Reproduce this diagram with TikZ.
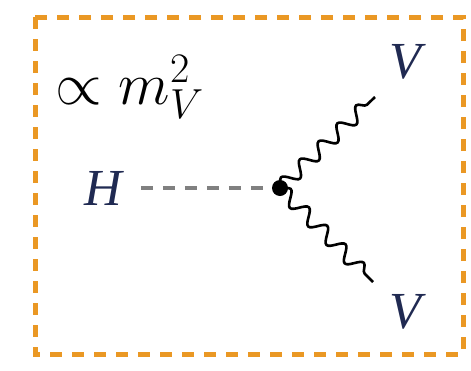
\documentclass[tikz,border=0pt]{standalone}
\usepackage{fix-cm}
\usepackage{fontspec}
\newfontfamily\timesfont{Liberation Serif}
\usetikzlibrary{decorations.pathmorphing}
\definecolor{boxorange}{RGB}{234,152,36}
\definecolor{labelblue}{RGB}{32,42,82}
\begin{document}
\begin{tikzpicture}[x=0.5pt, y=-0.5pt,
		lbl/.style={text=labelblue, font=\fontsize{26}{31}\selectfont\timesfont\itshape},
		scalar/.style={draw=gray, line width=1.6pt, dash pattern=on 6pt off 5pt},
		boson/.style={draw=black, line width=1.3pt, decorate,
			decoration={snake, segment length=13pt, amplitude=3.5pt, post length=1pt}}]
	\useasboundingbox (0,0) rectangle (471,370);
	% 1. 虚线框
	\draw[boxorange, line width=2.5pt, dash pattern=on 6pt off 5pt] (35,17) rectangle (463,354);
	
	% 2. 标号
	\node[anchor=base west, inner sep=0] (prop) at (55,104) {\fontsize{30}{36}\selectfont$\propto m_V^2$};
	\node[lbl] (H) at (103,188) {H};
	\node[lbl] (Vup) at (405,62) {V};
	\node[lbl] (Vdown) at (405,312) {V};
	
	% 3. 顶点与传播子
	\coordinate (vtx) at (280,188);
	\coordinate (endup) at (375,97);
	\coordinate (enddown) at (373,282);
	\draw[scalar, shorten <=6pt] (H) -- (vtx);
	\draw[boson] (vtx) -- (endup);
	\draw[boson] (vtx) -- (enddown);
	\fill[black] (vtx) circle (4pt);
\end{tikzpicture}
\end{document}
